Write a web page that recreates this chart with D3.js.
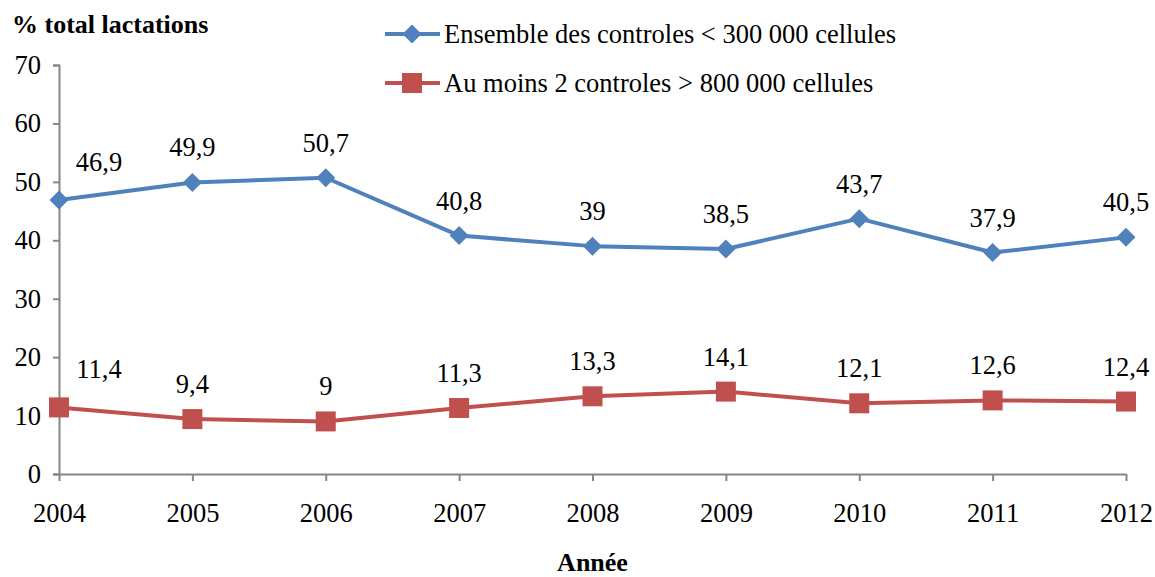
<!DOCTYPE html>
<html>
<head>
<meta charset="utf-8">
<script src="https://cdn.jsdelivr.net/npm/d3@7"></script>
</head>
<body style="margin:0; background:#fff">
<div id="chart"></div>
<script>
const years = [2004, 2005, 2006, 2007, 2008, 2009, 2010, 2011, 2012]
const below300k = [46.9, 49.9, 50.7, 40.8, 39, 38.5, 43.7, 37.9, 40.5]
const above800k = [11.4, 9.4, 9, 11.3, 13.3, 14.1, 12.1, 12.6, 12.4]
const yTicks = [0, 10, 20, 30, 40, 50, 60, 70]
const seriesNames = ["Ensemble des controles < 300 000 cellules", "Au moins 2 controles > 800 000 cellules"]

const W = 1155, H = 577
const margin = { top: 65, right: 29, bottom: 103, left: 59 }
const width = W - margin.left - margin.right
const height = H - margin.top - margin.bottom
const serif = 'Liberation Serif'

const x = d3.scalePoint().domain(years).range([0, width])
const y = d3.scaleLinear().domain([0, 70]).range([height, 0])

const svg = d3.select('#chart').append('svg')
    .attr('width', W)
    .attr('height', H)

const g = svg.append('g')
    .attr('transform', 'translate(' + margin.left + ',' + margin.top + ')')

const axisColor = '#868686'

// y axis
const yAxis = g.append('g')
    .call(d3.axisLeft(y).tickValues(yTicks).tickSize(6).tickPadding(12))
yAxis.select('.domain').attr('stroke', axisColor).attr('stroke-width', 2)
yAxis.selectAll('.tick line').attr('stroke', axisColor).attr('stroke-width', 2)

// x axis
const xAxis = g.append('g')
    .attr('transform', 'translate(0,' + height + ')')
    .call(d3.axisBottom(x).tickSize(7).tickSizeOuter(0).tickPadding(22))
xAxis.select('.domain').attr('stroke', axisColor).attr('stroke-width', 2)
xAxis.selectAll('.tick line').attr('stroke', axisColor).attr('stroke-width', 2)

const series = [
    { name: seriesNames[0], values: below300k, color: '#4F81BD', symbol: 'diamond' },
    { name: seriesNames[1], values: above800k, color: '#C0504D', symbol: 'square' }
]

const line = d3.line()
    .x((d, i) => x(years[i]))
    .y(d => y(d))

function drawMarker(sel, type, color) {
    if (type === 'diamond') {
        sel.append('path').attr('d', 'M0,-9.5L9.5,0L0,9.5L-9.5,0Z').attr('fill', color)
    } else {
        sel.append('rect').attr('x', -10).attr('y', -10).attr('width', 20).attr('height', 20).attr('fill', color)
    }
}

series.forEach(s => {
    g.append('path')
        .datum(s.values)
        .attr('d', line)
        .attr('fill', 'none')
        .attr('stroke', s.color)
        .attr('stroke-width', 4)
        .attr('stroke-linejoin', 'round')

    s.values.forEach((v, i) => {
        const m = g.append('g').attr('transform', 'translate(' + x(years[i]) + ',' + y(v) + ')')
        drawMarker(m, s.symbol, s.color)
        // first label is pushed right, off the axis
        g.append('text')
            .attr('x', x(years[i]) + (i === 0 ? 40 : 0))
            .attr('y', y(v) - (i === 0 ? 29 : 26))
            .attr('text-anchor', 'middle')
            .text(String(v).replace('.', ','))
    })
})

// legend
series.forEach((s, i) => {
    const ly = 34 + i * 49
    const lg = svg.append('g').attr('transform', 'translate(0,' + ly + ')')
    lg.append('line')
        .attr('x1', 385).attr('x2', 440)
        .attr('stroke', s.color).attr('stroke-width', 4)
    const m = lg.append('g').attr('transform', 'translate(412,0)')
    drawMarker(m, s.symbol, s.color)
    lg.append('text')
        .attr('x', 444)
        .attr('y', 9)
        .text(s.name)
})

// y axis title
svg.append('text')
    .attr('class', 'title')
    .attr('x', 12)
    .attr('y', 33)
    .text('% total lactations')

// x axis title
svg.append('text')
    .attr('class', 'title')
    .attr('x', margin.left + width / 2)
    .attr('y', 571)
    .attr('text-anchor', 'middle')
    .text('Année')

// same font for every text
svg.selectAll('text')
    .style('font-family', serif)
    .style('font-size', '26.5px')
    .style('fill', '#000')
svg.selectAll('text.title')
    .style('font-size', '26px')
    .style('font-weight', 'bold')
</script>
</body>
</html>
